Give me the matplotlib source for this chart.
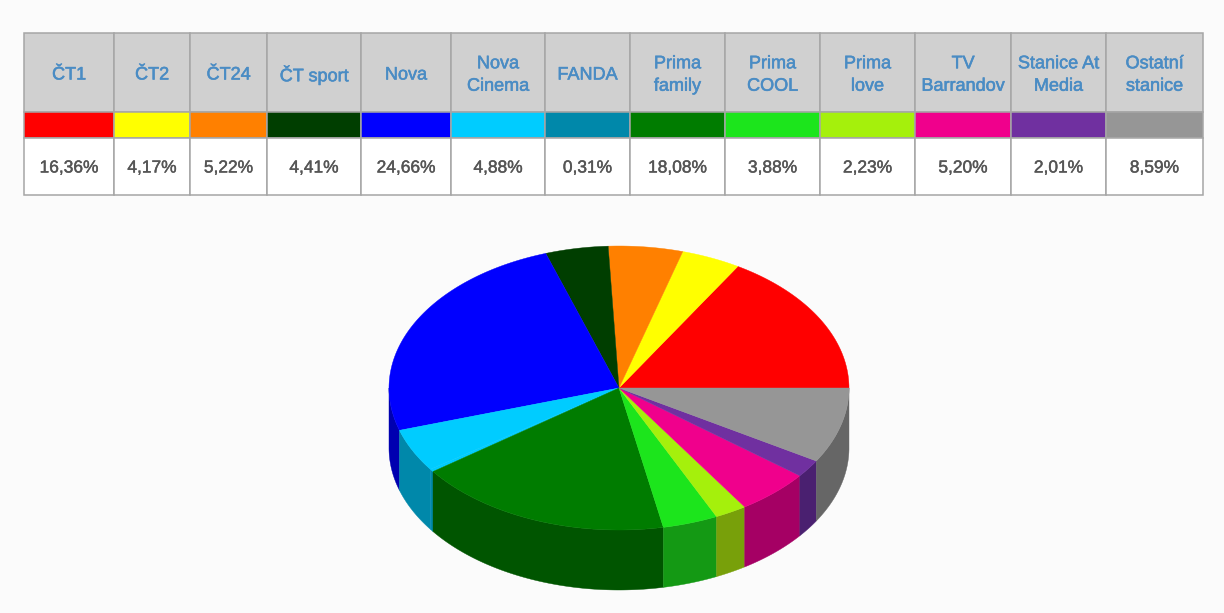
import numpy as np
import matplotlib
matplotlib.use("Agg")
import matplotlib.pyplot as plt
import matplotlib.patheffects as pe
from matplotlib.patches import Rectangle

stations = ["ČT1", "ČT2", "ČT24", "ČT sport", "Nova", "Nova\nCinema", "FANDA", "Prima\nfamily",
            "Prima\nCOOL", "Prima\nlove", "TV\nBarrandov", "Stanice At\nMedia", "Ostatní\nstanice"]
shares = [16.36, 4.17, 5.22, 4.41, 24.66, 4.88, 0.31, 18.08, 3.88, 2.23, 5.20, 2.01, 8.59]
value_labels = ["16,36%", "4,17%", "5,22%", "4,41%", "24,66%", "4,88%", "0,31%", "18,08%",
                "3,88%", "2,23%", "5,20%", "2,01%", "8,59%"]
legend_colors = ["#FF0000", "#FFFF00", "#FF8000", "#003E00", "#0000FF", "#00CCFF", "#0088AA", "#007C00",
                 "#1CE51C", "#A5F00C", "#F0008C", "#7030A0", "#969696"]
# the 0,31% sliver blends into its neighbour in the reference pie
top_colors = ["#FF0000", "#FFFF00", "#FF8000", "#003E00", "#0000FF", "#00CCFF", "#00CCFF", "#007C00",
              "#1CE51C", "#A5F00C", "#F0008C", "#7030A0", "#969696"]
side_colors = ["#B00000", "#B0B000", "#B05800", "#002A00", "#0000B0", "#0088AA", "#0088AA", "#005500",
               "#149914", "#78A00A", "#A50064", "#4A2070", "#666666"]

col_edges = [24, 114, 190, 267, 361, 451, 545, 630, 725, 820, 915, 1011, 1106, 1203]
row_edges = [33, 112, 138, 195]
BG, GRID, HEAD, LINK, TXT = "#FBFBFB", "#A6A6A6", "#D0D0D0", "#4A8CC4", "#555555"
FONT = "Liberation Sans"

fig = plt.figure(figsize=(12.24, 6.13), dpi=100, facecolor=BG)
ax = fig.add_axes([0, 0, 1, 1])
ax.set_xlim(0, 1224)
ax.set_ylim(613, 0)
ax.axis("off")

for i, name in enumerate(stations):
    x0, x1 = col_edges[i], col_edges[i + 1]
    w = x1 - x0
    ax.add_patch(Rectangle((x0, row_edges[0]), w, row_edges[1] - row_edges[0], fc=HEAD, ec=GRID, lw=1.1))
    ax.add_patch(Rectangle((x0, row_edges[1]), w, row_edges[2] - row_edges[1], fc=legend_colors[i], ec=GRID, lw=1.1))
    ax.add_patch(Rectangle((x0, row_edges[2]), w, row_edges[3] - row_edges[2], fc="#FFFFFF", ec=GRID, lw=1.1))
    xc = (x0 + x1) / 2
    t1 = ax.text(xc, 75, name, ha="center", va="center", color=LINK, fontsize=13, family=FONT, linespacing=1.42)
    t2 = ax.text(xc, 168, value_labels[i], ha="center", va="center", color=TXT, fontsize=12.5, family=FONT)
    t1.set_path_effects([pe.withStroke(linewidth=0.4, foreground=LINK)])
    t2.set_path_effects([pe.withStroke(linewidth=0.3, foreground=TXT)])

cx, cy, rx, ry, depth = 619, 388, 230, 142, 60
cum = np.concatenate([[0], np.cumsum(shares)])
angles = cum / cum[-1] * 2 * np.pi

# side wall (lower half of the ellipse only)
for i in range(len(shares)):
    a0, a1 = max(angles[i], np.pi), min(angles[i + 1], 2 * np.pi)
    if a1 <= a0:
        continue
    t = np.linspace(a0, a1, 80)
    x = cx + rx * np.cos(t)
    y = cy - ry * np.sin(t)
    ax.fill(np.r_[x, x[::-1]], np.r_[y, y[::-1] + depth], fc=side_colors[i], ec=side_colors[i], lw=0.3, zorder=2)

# top face
for i in range(len(shares)):
    t = np.linspace(angles[i], angles[i + 1], 120)
    x = np.r_[cx, cx + rx * np.cos(t)]
    y = np.r_[cy, cy - ry * np.sin(t)]
    ax.fill(x, y, fc=top_colors[i], ec=top_colors[i], lw=0.3, zorder=3)

fig.savefig("out.png", dpi=100, facecolor=BG)
